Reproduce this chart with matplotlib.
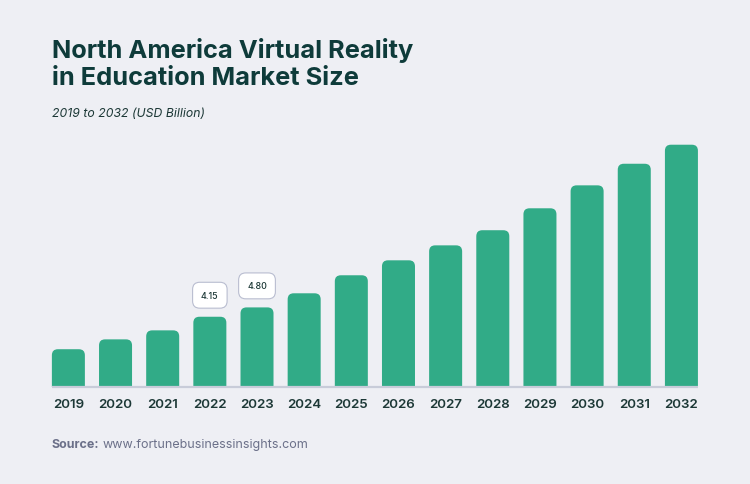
import matplotlib
matplotlib.use("Agg")
import matplotlib.pyplot as plt
from matplotlib.patches import FancyBboxPatch

years = ["2019", "2020", "2021", "2022", "2023", "2024", "2025",
         "2026", "2027", "2028", "2029", "2030", "2031", "2032"]
values = [2.24, 2.82, 3.35, 4.15, 4.70, 5.53, 6.59,
          7.47, 8.35, 9.24, 10.53, 11.88, 13.15, 14.27]
labels = {3: "4.15", 4: "4.80"}

title = "North America Virtual Reality\nin Education Market Size"
subtitle = "2019 to 2032 (USD Billion)"

BG = "#eeeff4"
BAR = "#31ab87"
DARK = "#0e3b3a"
W, H, DPI = 750, 485, 100

fig = plt.figure(figsize=(W / DPI, H / DPI), dpi=DPI, facecolor=BG)
ax_left, ax_right = 44.8, 705.0
ax_bottom_px = H - 388.3
ymax = 16.0
ax_h_px = 17.0 * ymax
ax = fig.add_axes([ax_left / W, ax_bottom_px / H, (ax_right - ax_left) / W, ax_h_px / H])
ax.set_facecolor(BG)
ax.set_xlim(-0.5, len(years) - 0.5)
ax.set_ylim(0, ymax)
for s in ax.spines.values():
    s.set_visible(False)
ax.set_yticks([])

x = list(range(len(years)))
bw = 0.70
bars = ax.bar(x, values, width=bw, color=BAR, alpha=0)

# rounded tops
px_x = (ax_right - ax_left) / len(years)      # pixels per x unit
px_y = ax_h_px / ymax                         # pixels per y unit
r_px = 6.0
r_x = r_px / px_x
aspect = (1 / px_y) / (1 / px_x)
for rect in bars:
    bx, bwid, bh = rect.get_x(), rect.get_width(), rect.get_height()
    p = FancyBboxPatch((bx, -1.0), bwid, bh + 1.0,
                       boxstyle=f"round,pad=0,rounding_size={r_x}",
                       mutation_aspect=aspect, facecolor=BAR, edgecolor="none",
                       zorder=2)
    ax.add_patch(p)

ax.plot([-bw / 2, len(years) - 1 + bw / 2], [0, 0], color="#c8ccd9",
        lw=1.6, solid_capstyle="butt", clip_on=False, zorder=3)

ax.set_xticks(x)
ax.set_xticklabels(years, fontfamily="Inter", fontsize=9.6, fontweight="semibold",
                   color="#1c3836")
ax.tick_params(axis="x", length=0, pad=8)

for i, t in labels.items():
    ax.annotate(t, xy=(i, values[i]), xytext=(0, 15.5), textcoords="offset points",
                ha="center", va="center", fontsize=6.4, fontfamily="Inter",
                fontweight="medium", color="#1c3836", zorder=4,
                bbox=dict(boxstyle="round,pad=0.95,rounding_size=0.8",
                          facecolor="white", edgecolor="#b9bdd0", lw=0.8))

fig.text(52 / W, 1 - 85 / H, title, fontfamily="Inter", fontweight="bold",
         fontsize=18.3, color=DARK, ha="left", va="baseline",
         linespacing=1.2)
fig.text(52 / W, 1 - 114 / H, subtitle, fontfamily="Inter", fontstyle="italic",
         fontsize=8.8, color="#1c3836", ha="left", va="center")

t1 = fig.text(52 / W, 1 - 445 / H, "Source:", fontfamily="Inter", fontweight="bold",
              fontsize=9, color="#6b7089", ha="left", va="center")
fig.canvas.draw()
bb = t1.get_window_extent()
fig.text((bb.x1 + 3) / W, 1 - 445 / H, "www.fortunebusinessinsights.com",
         fontfamily="Inter", fontsize=9, color="#6b7089", ha="left", va="center")

fig.savefig("out.png", dpi=DPI, facecolor=BG)
